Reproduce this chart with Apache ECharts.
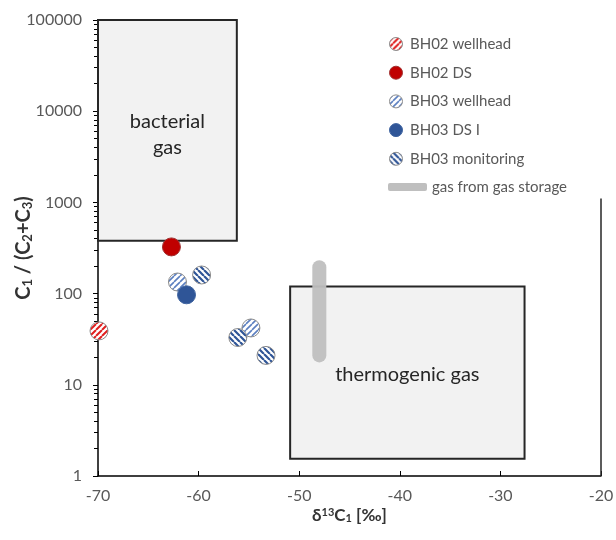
<!DOCTYPE html>
<html>
<head>
<meta charset="utf-8">
<script src="https://cdn.jsdelivr.net/npm/echarts@6/dist/echarts.min.js"></script>
<style>
  html, body { margin: 0; padding: 0; background: #fff; }
  #chart { width: 616px; height: 540px; }
</style>
</head>
<body>
<div id="chart"></div>
<script>
// data: [d13C1, C1/(C2+C3)]
var bh02Wellhead = [[-69.9, 39]];
var bh02DS = [[-62.7, 325]];
var bh03Wellhead = [[-62.1, 134], [-54.8, 42]];
var bh03DS = [[-61.2, 97]];
var bh03Monitoring = [[-59.7, 160], [-56.1, 33], [-53.3, 21]];
var gasStorage = [[-48, 195], [-48, 21]];
// genetic fields
var bacterialBox = [[-70, 380], [-56.2, 100000]];
var thermogenicBox = [[-50.9, 1.55], [-27.6, 120]];
// right frame line, hidden behind the legend box at the top
var rightFrame = [[-20, 1], [-20, 1100]];
var xTicks = [-70, -60, -50, -40, -30, -20];

var grey = '#595959';
var font = 'Lato, "Open Sans", sans-serif';

// diagonal stripe fill for the hatched markers
function stripes(fg, bg, dir, lw) {
    var s = 6;
    var c = document.createElement('canvas');
    c.width = s; c.height = s;
    var ctx = c.getContext('2d');
    ctx.fillStyle = bg;
    ctx.fillRect(0, 0, s, s);
    ctx.strokeStyle = fg;
    ctx.lineWidth = lw;
    ctx.beginPath();
    [-s, 0, s].forEach(function (i) {
        if (dir === '/') {
            ctx.moveTo(i, s); ctx.lineTo(i + s, 0);
        } else {
            ctx.moveTo(i, 0); ctx.lineTo(i + s, s);
        }
    });
    ctx.stroke();
    return { image: c, repeat: 'repeat' };
}

var styles = {
    'BH02 wellhead': { fill: stripes('#e02020', '#fff', '/', 2), stroke: '#8c8c8c' },
    'BH02 DS': { fill: '#c00000', stroke: '#a03030' },
    'BH03 wellhead': { fill: stripes('#5b7fc0', '#fff', '/', 1.6), stroke: '#8c8c8c' },
    'BH03 DS I': { fill: '#2f5597', stroke: '#3f64a0' },
    'BH03 monitoring': { fill: stripes('#2f5597', '#fff', '\\', 2.2), stroke: '#8c8c8c' }
};

function pointSeries(name, data) {
    var st = styles[name];
    return {
        name: name,
        type: 'custom',
        data: data,
        z: 5,
        itemStyle: { color: st.fill },
        renderItem: function (params, api) {
            var p = api.coord([api.value(0), api.value(1)]);
            return {
                type: 'circle',
                shape: { cx: p[0], cy: p[1], r: 9 },
                style: { fill: st.fill, stroke: st.stroke, lineWidth: 1 }
            };
        }
    };
}

function legendItem(name) {
    var st = styles[name];
    return { name: name, icon: 'circle', itemStyle: { color: st.fill, borderColor: st.stroke, borderWidth: 1 } };
}

var myChart = echarts.init(document.getElementById('chart'));

var option = {
    animation: false,
    textStyle: { fontFamily: font },
    grid: { left: 98, right: 15, top: 20, bottom: 64, outerBoundsMode: 'none', containLabel: false },
    legend: [
        {
            orient: 'vertical',
            left: 384,
            top: 31.5,
            itemWidth: 18,
            itemHeight: 13,
            itemGap: 13.7,
            textStyle: { color: grey, fontSize: 15, fontFamily: font },
            data: ['BH02 wellhead', 'BH02 DS', 'BH03 wellhead', 'BH03 DS I', 'BH03 monitoring'].map(legendItem)
        },
        {
            orient: 'vertical',
            left: 383,
            top: 174.5,
            itemWidth: 39,
            itemHeight: 8,
            icon: 'roundRect',
            textStyle: { color: grey, fontSize: 15, fontFamily: font },
            data: ['gas from gas storage']
        }
    ],
    xAxis: {
        type: 'value',
        min: xTicks[0],
        max: xTicks[xTicks.length - 1],
        interval: 10,
        name: 'δ{sup|13}C{sub|1} [‰]',
        nameLocation: 'middle',
        nameMoveOverlap: false,
        nameGap: 31,
        nameTextStyle: {
            color: '#333', fontSize: 17, fontWeight: 'bold', fontFamily: font,
            rich: {
                sup: { fontSize: 11, fontWeight: 'bold', color: '#333', verticalAlign: 'top', padding: [0, 0, 6, 0] },
                sub: { fontSize: 11, fontWeight: 'bold', color: '#333', verticalAlign: 'bottom', padding: [6, 0, 0, 0] }
            }
        },
        axisLine: { onZero: false, lineStyle: { color: '#000', width: 1.5 } },
        axisTick: { inside: true, length: 5, lineStyle: { color: '#000' } },
        axisLabel: { color: grey, fontSize: 16, margin: 12 },
        splitLine: { show: false }
    },
    yAxis: {
        type: 'log',
        logBase: 10,
        min: 1,
        max: 100000,
        name: 'C{sub|1} / (C{sub|2}+C{sub|3})',
        nameLocation: 'middle',
        nameMoveOverlap: false,
        nameGap: 64,
        nameTextStyle: {
            color: '#333', fontSize: 20, fontWeight: 'bold', fontFamily: font,
            padding: [0, 0, 0, 0],
            rich: {
                sub: { fontSize: 13, fontWeight: 'bold', color: '#333', verticalAlign: 'bottom', padding: [7, 0, 0, 0] }
            }
        },
        axisLine: { onZero: false, lineStyle: { color: '#000', width: 1.5 } },
        axisTick: { inside: false, length: 5, lineStyle: { color: '#000' } },
        minorTick: { show: true, splitNumber: 9, length: 4, lineStyle: { color: '#000' } },
        axisLabel: {
            color: grey, fontSize: 16, margin: 16,
            formatter: function (v) { return String(Math.round(v)); }
        },
        splitLine: { show: false }
    },
    series: [
        {
            name: 'fields',
            type: 'scatter',
            data: [],
            silent: true,
            markArea: {
                silent: true,
                itemStyle: { color: '#f2f2f2', borderColor: '#262626', borderWidth: 2 },
                label: { show: true, position: 'inside', color: '#262626', fontSize: 20, fontFamily: font, lineHeight: 26 },
                data: [
                    [{ coord: bacterialBox[0], name: 'bacterial\ngas', label: { offset: [0, 4] } }, { coord: bacterialBox[1] }],
                    [{ coord: thermogenicBox[0], name: 'thermogenic gas', label: { offset: [0, 2] } }, { coord: thermogenicBox[1] }]
                ]
            },
            markLine: {
                silent: true,
                symbol: 'none',
                label: { show: false },
                lineStyle: { color: '#262626', width: 1.5, type: 'solid' },
                data: [[{ coord: rightFrame[0] }, { coord: rightFrame[1] }]]
            },
            z: 1
        },
        {
            name: 'gas from gas storage',
            type: 'line',
            data: gasStorage,
            symbol: 'none',
            itemStyle: { color: '#bfbfbf' },
            lineStyle: { color: '#bfbfbf', width: 14, cap: 'round', opacity: 0.95 },
            z: 3
        },
        pointSeries('BH02 wellhead', bh02Wellhead),
        pointSeries('BH02 DS', bh02DS),
        pointSeries('BH03 wellhead', bh03Wellhead),
        pointSeries('BH03 DS I', bh03DS),
        pointSeries('BH03 monitoring', bh03Monitoring)
    ]
};

myChart.setOption(option);
</script>
</body>
</html>
